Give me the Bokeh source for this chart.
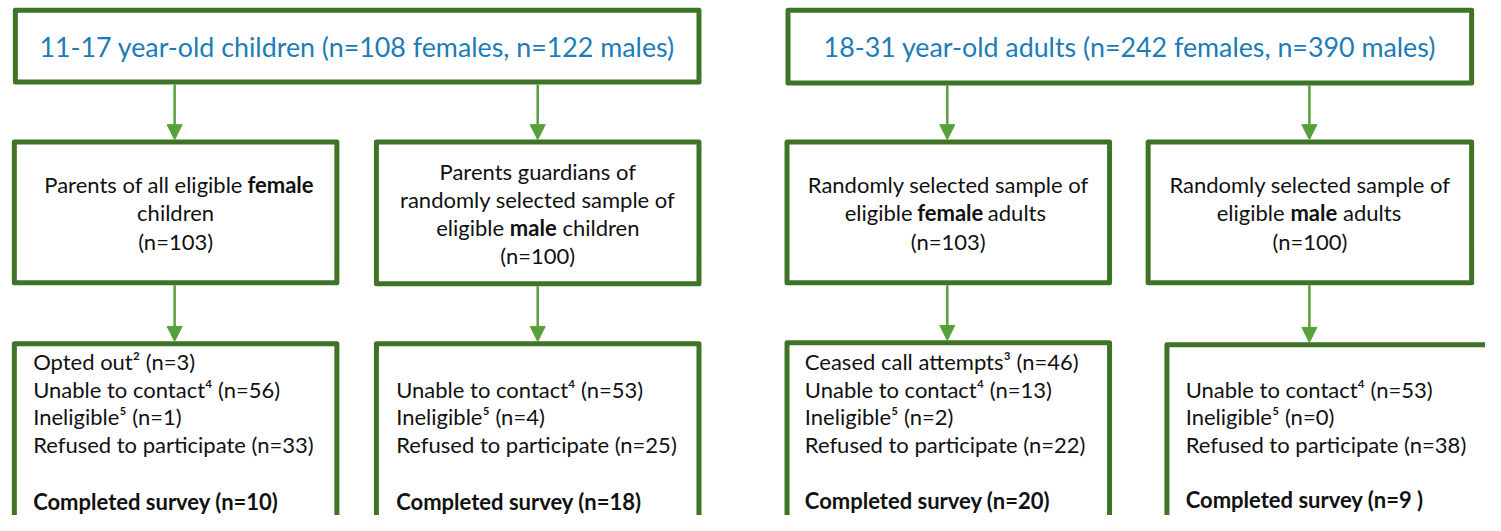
from bokeh.plotting import figure
from bokeh.models import Range1d, Arrow, NormalHead
from bokeh.core.properties import value
from bokeh.embed import file_html
from bokeh.resources import INLINE

# ---------------- data ----------------
group_titles = [
    "11-17 year-old children (n=108 females, n=122 males)",
    "18-31 year-old adults (n=242 females, n=390 males)",
]

# sample boxes: each line is a list of (text, bold) runs
sample_lines = [
    [[("Parents of all eligible", False), ("female", True), ("", False)],
     [("children", False)],
     [("(n=103)", False)]],
    [[("Parents guardians of", False)],
     [("randomly selected sample of", False)],
     [("eligible", False), ("male", True), ("children", False)],
     [("(n=100)", False)]],
    [[("Randomly selected sample of", False)],
     [("eligible", False), ("female", True), ("adults", False)],
     [("(n=103)", False)]],
    [[("Randomly selected sample of", False)],
     [("eligible", False), ("male", True), ("adults", False)],
     [("(n=100)", False)]],
]

outcome_labels = [
    ["Opted out\u00b2", "Unable to contact\u2074", "Ineligible\u2075", "Refused to participate"],
    [None, "Unable to contact\u2074", "Ineligible\u2075", "Refused to participate"],
    ["Ceased call attempts\u00b3", "Unable to contact\u2074", "Ineligible\u2075", "Refused to participate"],
    [None, "Unable to contact\u2074", "Ineligible\u2075", "Refused to participate"],
]
outcome_counts = [
    [3, 56, 1, 33],
    [None, 53, 4, 25],
    [46, 13, 2, 22],
    [None, 53, 0, 38],
]
completed_labels = ["Completed survey (n=10)", "Completed survey (n=18)",
                    "Completed survey (n=20)", "Completed survey (n=9 )"]

# ---------------- layout (pixel space of the reference) ----------------
BORDER = "#3F7427"
ARROW = "#58A03A"
TITLE_BLUE = "#1D7CB8"
TEXT = "#111111"
FONT = "Lato"
BODY_SIZE = "22px"
TITLE_SIZE = "26.8px"

top_boxes = dict(left=[15, 796], right=[706, 1487], top=[10, 10], bottom=[84, 85])
mid_boxes = dict(left=[14, 380, 795, 1160], right=[340, 706, 1121, 1487],
                 top=[146, 146, 146, 146], bottom=[291, 292, 291, 291])
bot_boxes = dict(left=[14, 380, 795, 1179], right=[340, 706, 1121, 1560],
                 top=[354, 354, 353, 355], bottom=[600, 600, 600, 600])
arrow_x = [176, 543, 957, 1323]
mid_line_y = [[190, 219, 248], [176, 205, 234, 263], [190, 219, 248], [190, 219, 248]]
bold_center = {(0, 0): (283, 33), (1, 2): (538.5, 24.5), (2, 1): (960, 33), (3, 1): (1327.5, 24.5)}
bot_text_x = [33, 400, 813, 1198]
bot_line_y = [372, 401, 429, 458]
completed_y = [517, 517, 516, 515]

W, H = 1485, 515
p = figure(width=W, height=H, output_backend="svg", toolbar_location=None,
           x_range=Range1d(0, 1501), y_range=Range1d(531, 0),
           min_border=0, background_fill_color="white", border_fill_color="white")
p.axis.visible = False
p.grid.visible = False
p.outline_line_color = None

for boxes in (top_boxes, mid_boxes, bot_boxes):
    p.quad(left=boxes["left"], right=boxes["right"], top=boxes["top"], bottom=boxes["bottom"],
           fill_color="white", line_color=BORDER, line_width=5, line_join="round")

# arrows
for i, x in enumerate(arrow_x):
    tb = 0 if i < 2 else 1
    for y0, y1 in ((top_boxes["bottom"][tb] + 2.5, mid_boxes["top"][i] - 2.5),
                   (mid_boxes["bottom"][i] + 2.5, bot_boxes["top"][i] - 2.5)):
        p.add_layout(Arrow(end=NormalHead(size=15, fill_color=ARROW, line_color=ARROW, line_width=1),
                           x_start=x, y_start=y0, x_end=x, y_end=y1,
                           line_color=ARROW, line_width=2.5))

# titles
for i, t in enumerate(group_titles):
    cx = (top_boxes["left"][i] + top_boxes["right"][i]) / 2
    p.text(x=[cx], y=[48], text=[t], text_font=value(FONT), text_font_size=TITLE_SIZE,
           text_color=TITLE_BLUE, text_align="center", text_baseline="middle")


def put(x, y, s, bold=False, align="left"):
    if not s:
        return
    p.text(x=[x], y=[y], text=[s], text_font=value(FONT), text_font_size=BODY_SIZE,
           text_color=TEXT, text_align=align, text_baseline="middle",
           text_font_style="bold" if bold else "normal")


GAP = 5
for b, lines in enumerate(sample_lines):
    cx = (mid_boxes["left"][b] + mid_boxes["right"][b]) / 2
    for li, runs in enumerate(lines):
        y = mid_line_y[b][li]
        if len(runs) == 1:
            put(cx, y, runs[0][0], runs[0][1], "center")
        else:
            bc, hw = bold_center[(b, li)]
            put(bc - hw - GAP, y, runs[0][0], runs[0][1], "right")
            put(bc, y, runs[1][0], runs[1][1], "center")
            put(bc + hw + GAP, y, runs[2][0], runs[2][1], "left")

for b in range(4):
    for li in range(4):
        lab = outcome_labels[b][li]
        if lab is None:
            continue
        put(bot_text_x[b], bot_line_y[li], f"{lab} (n={outcome_counts[b][li]})")
    put(bot_text_x[b], completed_y[b], completed_labels[b], bold=True)

open("out.html", "w").write(file_html(p, INLINE))
